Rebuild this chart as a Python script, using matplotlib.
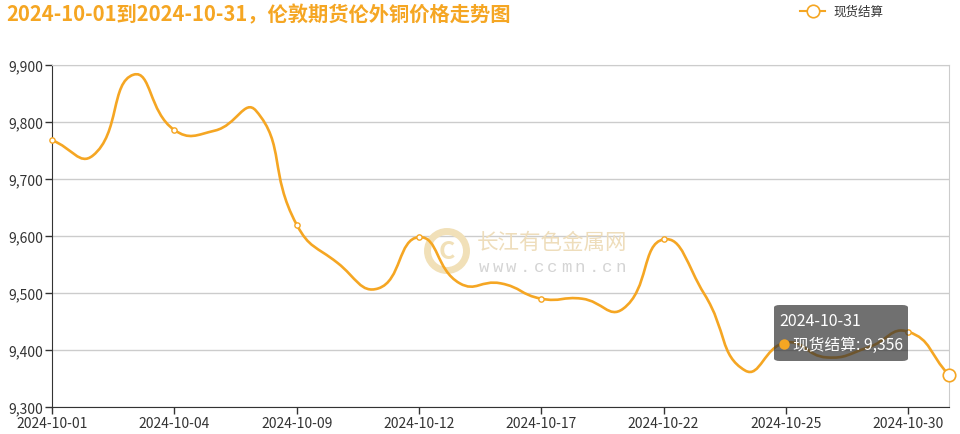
import numpy as np
import matplotlib
matplotlib.use("Agg")
import matplotlib.pyplot as plt
from matplotlib.path import Path
from matplotlib.patches import PathPatch, Circle, FancyBboxPatch
from matplotlib.lines import Line2D

plt.rcParams['font.family'] = ['Noto Sans CJK SC', 'DejaVu Sans']

# 数据
dates = ['2024-10-01', '2024-10-02', '2024-10-03', '2024-10-04', '2024-10-07',
         '2024-10-08', '2024-10-09', '2024-10-10', '2024-10-11', '2024-10-12',
         '2024-10-15', '2024-10-16', '2024-10-17', '2024-10-18', '2024-10-21',
         '2024-10-22', '2024-10-23', '2024-10-24', '2024-10-25', '2024-10-28',
         '2024-10-29', '2024-10-30', '2024-10-31']
prices = [9768, 9741, 9883, 9786, 9785, 9820, 9620, 9553, 9508, 9598,
          9517, 9517, 9490, 9490, 9472, 9594, 9498, 9364, 9413, 9387,
          9404, 9432, 9356]
yticks = [9300, 9400, 9500, 9600, 9700, 9800, 9900]
series_name = '现货结算'
title = '2024-10-01到2024-10-31，伦敦期货伦外铜价格走势图'

color = '#F5A623'
fig = plt.figure(figsize=(9.6, 4.35), dpi=100)
ax = fig.add_axes([52 / 960, 27 / 435, 897 / 960, 342 / 435])

x = np.arange(len(prices))
y = np.array(prices, dtype=float)

# echarts风格的平滑曲线 (smooth=0.5), 在像素空间算控制点
sx, sy = 897 / (len(x) - 1), 342 / 600
px, py = x * sx, y * sy
n = len(px)
cps = []
for i in range(n):
    pi = max(i - 1, 0)
    ni = min(i + 1, n - 1)
    vx, vy = px[ni] - px[pi], py[ni] - py[pi]
    d0 = np.hypot(px[i] - px[pi], py[i] - py[pi])
    d1 = np.hypot(px[ni] - px[i], py[ni] - py[i])
    r = d1 / (d0 + d1) if d0 + d1 > 0 else 0.5
    c_in = (px[i] - vx * 0.5 * (1 - r), py[i] - vy * 0.5 * (1 - r))
    c_out = (px[i] + vx * 0.5 * r, py[i] + vy * 0.5 * r)
    cps.append((c_in, c_out))

verts = [(x[0], y[0])]
codes = [Path.MOVETO]
for i in range(n - 1):
    c1 = cps[i][1]
    c2 = cps[i + 1][0]
    verts += [(c1[0] / sx, c1[1] / sy), (c2[0] / sx, c2[1] / sy), (x[i + 1], y[i + 1])]
    codes += [Path.CURVE4] * 3
ax.add_patch(PathPatch(Path(verts, codes), fill=False, edgecolor=color, lw=1.9,
                       zorder=3, clip_on=False))

# 标记点
idx = list(range(0, n, 3))
ax.plot(x[idx], y[idx], 'o', ms=3.8, mfc='white', mec=color, mew=1, zorder=4, clip_on=False)
ax.plot(x[-1], y[-1], 'o', ms=9, mfc='white', mec=color, mew=1.2, zorder=4, clip_on=False)

ax.set_xlim(0, n - 1)
ax.set_ylim(9300, 9900)
ax.set_yticks(yticks)
ax.set_yticklabels([f'{v:,}' for v in yticks])
ax.set_xticks(idx)
ax.set_xticklabels([dates[i] for i in idx])
ax.tick_params(axis='both', labelsize=10, colors='#333333', length=5, width=1, pad=1.5)
ax.yaxis.grid(True, color='#cccccc', lw=1)
ax.set_axisbelow(True)
for s in ['left', 'bottom']:
    ax.spines[s].set_color('#333333')
for s in ['top', 'right']:
    ax.spines[s].set_color('#cccccc')

# 标题和图例
fig.text(6 / 960, 1 - 15 / 435, title, fontsize=14.6, fontweight='bold', color=color,
         va='center', ha='left')
fig.add_artist(Line2D([800 / 960, 825 / 960], [1 - 12 / 435] * 2, color=color, lw=1.5))
fig.add_artist(Line2D([812.5 / 960], [1 - 12 / 435], marker='o', ms=9, mfc='white',
                      mec=color, mew=1.2))
fig.text(833 / 960, 1 - 12 / 435, series_name, fontsize=9, color='#333333', va='center')

# 水印
ax.add_artist(Circle((447, 435 - 252), 19.5, transform=None, fill=False, ec='#F1E0B8',
                     lw=5, zorder=2))
fig.text(447 / 960, 1 - 252 / 435, 'C', fontsize=18, fontweight='bold', color='#F1E0B8',
         ha='center', va='center')
fig.text(477 / 960, 1 - 243 / 435, '长江有色金属网', fontsize=15.5, color='#EEDDBB',
         va='center', ha='left')
for k, ch in enumerate('www.ccmn.cn'):
    fig.text((484 + k * 13.7) / 960, 1 - 268 / 435, ch, fontsize=12.5, color='#d4d4d4',
             va='center', ha='center', family='Liberation Mono')

# 提示框
fig.add_artist(FancyBboxPatch((774 / 960, 1 - 362 / 435), 134 / 960, 56 / 435,
                              boxstyle='round,pad=0,rounding_size=0.006',
                              transform=fig.transFigure, fc=(0.2, 0.2, 0.2, 0.7), ec='none',
                              zorder=10))
fig.text(779 / 960, 1 - 322 / 435, dates[-1], fontsize=11.5, color='white', va='center',
         zorder=11)
fig.add_artist(Line2D([784 / 960], [1 - 345 / 435], marker='o', ms=7.5, color=color,
                      mec='none', zorder=11))
fig.text(793 / 960, 1 - 345 / 435, f'{series_name}: {prices[-1]:,}', fontsize=11.3,
         color='white', va='center', zorder=11)

fig.savefig('out.png', dpi=100)
